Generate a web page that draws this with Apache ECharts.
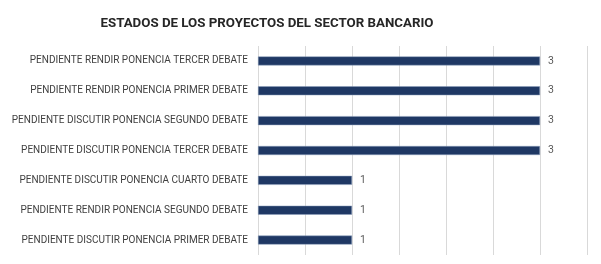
<!DOCTYPE html>
<html><head><meta charset="utf-8">
<script src="https://cdn.jsdelivr.net/npm/echarts@6/dist/echarts.min.js"></script>
<style>html,body{margin:0;padding:0;background:#fff}#c{width:601px;height:264px}</style>
</head><body><div id="c"></div>
<script>
const categories = [
  "PENDIENTE RENDIR PONENCIA TERCER DEBATE",
  "PENDIENTE RENDIR PONENCIA PRIMER DEBATE",
  "PENDIENTE DISCUTIR PONENCIA SEGUNDO DEBATE",
  "PENDIENTE DISCUTIR PONENCIA TERCER DEBATE",
  "PENDIENTE DISCUTIR PONENCIA CUARTO DEBATE",
  "PENDIENTE RENDIR PONENCIA SEGUNDO DEBATE",
  "PENDIENTE DISCUTIR PONENCIA PRIMER DEBATE"
];
const values = [3, 3, 3, 3, 1, 1, 1];
const titleText = "ESTADOS DE LOS PROYECTOS DEL SECTOR BANCARIO";

const chart = echarts.init(document.getElementById('c'), null, {renderer: 'canvas'});
chart.setOption({
  animation: false,
  title: {
    text: titleText,
    left: 262, top: 12, textAlign: 'center',
    textStyle: {fontFamily: 'Roboto', fontWeight: 'bold', fontSize: 13.3, color: '#262626'}
  },
  grid: {left: 258, right: 14, top: 46, bottom: 9, containLabel: false},
  xAxis: {
    type: 'value', min: 0, max: 3.5, interval: 0.5,
    axisLabel: {show: false}, axisLine: {show: false}, axisTick: {show: false},
    splitLine: {show: true, lineStyle: {color: '#d9d9d9', width: 1}}
  },
  yAxis: {
    type: 'category', data: categories, inverse: true,
    axisLine: {show: false}, axisTick: {show: false},
    axisLabel: {fontFamily: 'Roboto', fontSize: 10, color: '#404040', margin: 10}
  },
  series: [{
    type: 'bar', data: values, barWidth: 9,
    itemStyle: {color: '#1f3864', borderColor: '#8fa0bf', borderWidth: 0.5},
    label: {show: true, position: 'right', distance: 8, fontFamily: 'Roboto', fontSize: 10.5, color: '#595959'}
  }]
});
</script></body></html>
